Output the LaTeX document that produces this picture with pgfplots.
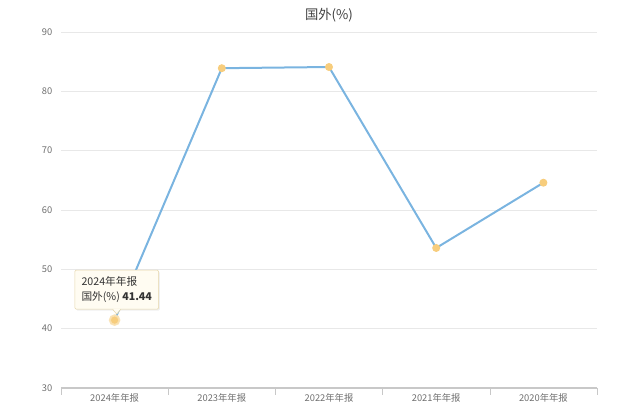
\documentclass[border=0pt]{standalone}
\usepackage{fontspec}
\setmainfont{Noto Sans CJK SC}
\usepackage{pgfplots}
\pgfplotsset{compat=1.18}
\usetikzlibrary{shadows}
\definecolor{linec}{RGB}{122,180,224}
\definecolor{markc}{RGB}{247,205,125}
\definecolor{gridc}{RGB}{232,232,232}
\definecolor{axc}{RGB}{200,200,200}
\definecolor{txtc}{RGB}{110,110,110}
\definecolor{tipbg}{RGB}{255,252,242}
\definecolor{tipbd}{RGB}{230,214,170}
\begin{document}
\begin{tikzpicture}
\begin{axis}[
  scale only axis,
  width=402pt, height=267pt,
  xmin=-0.5, xmax=4.5,
  ymin=30, ymax=90,
  ytick={30,40,...,90},
  xtick={0,1,2,3,4},
  xticklabels={2024年年报,2023年年报,2022年年报,2021年年报,2020年年报},
  minor xtick={-0.5,0.5,...,4.5},
  major tick length=0pt,
  minor tick length=5pt,
  tick align=outside,
  minor tick style={axc},
  axis x line*=bottom,
  axis y line*=left,
  y axis line style={draw=none},
  ymajorgrids,
  grid style={gridc, line width=0.6pt},
  x axis line style={axc, line width=0.8pt, -},
  ticklabel style={font=\fontsize{7}{8}\selectfont, text=txtc},
  /pgf/number format/assume math mode=true,
  yticklabel style={xshift=-3pt},
  xticklabel style={yshift=-1pt},
  title={国外(\%)},
  title style={font=\fontsize{10}{12}\selectfont, text=black!75, yshift=-2pt},
  clip=false,
]
\addplot[linec, line width=1.5pt, mark=*, mark size=2.2pt,
  mark options={fill=markc, draw=markc}]
  coordinates {(0,41.44) (1,83.9) (2,84.1) (3,53.6) (4,64.6)};
\addplot[only marks, mark=*, mark size=3.6pt, mark options={fill=markc, draw=markc!60, line width=1.5pt, opacity=0.9}]
  coordinates {(0,41.44)};
\node[draw=tipbd, fill=tipbg, rounded corners=1pt, align=left,
  inner xsep=5pt, inner ysep=5pt,
  font=\fontsize{8}{11}\selectfont, text=black!80, anchor=south,
  drop shadow={opacity=0.12, shadow xshift=1pt, shadow yshift=-1pt}]
  (tip) at (axis cs:0.02,41.44) [yshift=8pt]
  {2024年年报\\国外(\%) \textbf{41.44}};
\fill[tipbg] ([xshift=-3pt,yshift=0.6pt]tip.south) -- ([yshift=-3.5pt]tip.south) -- ([xshift=3pt,yshift=0.6pt]tip.south) -- cycle;
\draw[tipbd] ([xshift=-3pt]tip.south) -- ([yshift=-3.5pt]tip.south) -- ([xshift=3pt]tip.south);
\path (rel axis cs:0,0) ++(-45.75pt,-21.75pt) coordinate (bl);
\path (rel axis cs:1,1) ++(32.25pt,24pt) coordinate (tr);
\end{axis}
\path[use as bounding box] (bl) rectangle (tr);
\end{tikzpicture}
\end{document}
